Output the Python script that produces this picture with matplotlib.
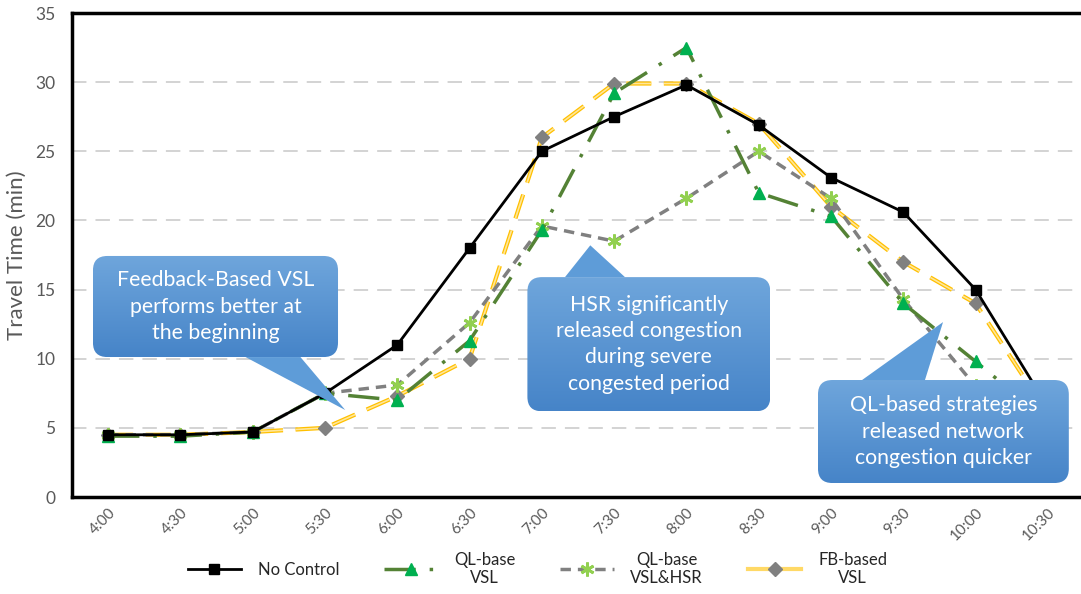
import matplotlib
matplotlib.use("Agg")
import matplotlib.pyplot as plt
import numpy as np
from matplotlib.patches import FancyBboxPatch, Polygon
from matplotlib.lines import Line2D

plt.rcParams['font.family'] = ['Lato', 'DejaVu Sans']

times = ["4:00", "4:30", "5:00", "5:30", "6:00", "6:30", "7:00", "7:30",
         "8:00", "8:30", "9:00", "9:30", "10:00", "10:30"]
no_control = [4.5, 4.5, 4.7, 7.5, 11.0, 18.0, 25.0, 27.5, 29.8, 26.9, 23.1, 20.6, 15.0, 6.5]
ql_vsl = [4.4, 4.4, 4.7, 7.5, 7.0, 11.3, 19.3, 29.2, 32.5, 22.0, 20.3, 14.0, 9.8, 5.5]
ql_vsl_hsr = [4.5, 4.5, 4.7, 7.5, 8.1, 12.6, 19.6, 18.5, 21.6, 25.0, 21.6, 14.3, 8.0, 5.0]
fb_vsl = [4.5, 4.5, 4.7, 5.0, 7.3, 10.0, 26.0, 29.9, 29.9, 27.0, 21.0, 17.0, 14.0, 6.0]

labels = ["No Control", "QL-base\nVSL", "QL-base\nVSL&HSR", "FB-based\nVSL"]

W, H = 1081, 594
fig = plt.figure(figsize=(W / 100, H / 100), dpi=100)
ax = fig.add_axes([72 / W, (H - 497) / H, (1084 - 72) / W, (497 - 13) / H])

x = np.arange(len(times))

l1, = ax.plot(x, no_control, color="black", lw=2, marker="s", ms=7,
              mfc="black", mec="black", zorder=5)
l2, = ax.plot(x, ql_vsl, color="#548235", lw=2.5, marker="^", ms=9,
              mfc="#00B050", mec="#00B050", zorder=4)
l2.set_dashes([9, 4, 1, 4])
l3, = ax.plot(x, ql_vsl_hsr, color="#808080", lw=2.5, marker=(6, 2, 0), ms=10,
              mfc="#92D050", mec="#92D050", mew=2, zorder=3)
l3.set_dashes([3, 2])
l4b, = ax.plot(x, fb_vsl, color="#FFC000", lw=3.0, zorder=2)
l4b.set_dashes([6, 3])
l4, = ax.plot(x, fb_vsl, color="#FFE699", lw=1.2, marker="D", ms=7,
              mfc="#808080", mec="#808080", zorder=2.5)
l4.set_dashes([15, 7.5])

ax.set_xlim(-0.5, 13.5)
ax.set_ylim(0, 35)
ax.set_yticks(np.arange(0, 36, 5))
ax.set_xticks(x)
ax.set_xticklabels(times, rotation=45, ha="right", rotation_mode="anchor",
                   color="#595959", fontsize=11)
ax.tick_params(axis="y", colors="#595959", labelsize=12.5, length=0, pad=12)
ax.tick_params(axis="x", length=0, pad=6)
ax.set_ylabel("Travel Time (min)", color="#595959", fontsize=16, labelpad=6)

ax.grid(axis="y", color="#D0D0D0", lw=1.3, linestyle=(0, (8, 5)))
ax.set_axisbelow(True)
for s in ["left", "bottom", "top", "right"]:
    ax.spines[s].set_linewidth(2.5)
    ax.spines[s].set_color("black")


def callout(box, base, tip, text):
    x0, x1, y0, y1 = box
    grad = np.linspace(0, 1, 256).reshape(-1, 1)
    cmap = matplotlib.colors.LinearSegmentedColormap.from_list(
        "c", ["#6FA6DC", "#4684C8"])
    patch = FancyBboxPatch((x0, y0), x1 - x0, y1 - y0,
                           boxstyle="round,pad=0,rounding_size=0.2",
                           mutation_aspect=5.2,
                           fc="none", ec="none", zorder=8)
    ax.add_patch(patch)
    im = ax.imshow(grad, extent=(x0, x1, y0, y1), cmap=cmap, aspect="auto",
                   zorder=8, origin="upper")
    im.set_clip_path(patch)
    yb = y1 if tip[1] > y1 else y0
    poly = Polygon([(base[0], yb), (base[1], yb), tip], closed=True,
                   fc="#5E9CD8", ec="none", zorder=8)
    ax.add_patch(poly)
    ax.text((x0 + x1) / 2, (y0 + y1) / 2, text, ha="center", va="center",
            color="white", fontsize=15.3, linespacing=1.4, zorder=9)


callout((-0.21, 3.18, 10.12, 17.43), (1.9, 2.66), (3.28, 6.29),
        "Feedback-Based VSL\nperforms better at\nthe beginning")
callout((5.8, 9.16, 6.2, 15.9), (6.32, 7.15), (6.67, 18.2),
        "HSR significantly\nreleased congestion\nduring severe\ncongested period")
callout((9.82, 13.29, 1.01, 8.46), (10.43, 11.3), (11.55, 12.65),
        "QL-based strategies\nreleased network\ncongestion quicker")
ax.set_xlim(-0.5, 13.5)
ax.set_ylim(0, 35)

h1 = Line2D([], [], color="black", lw=2, marker="s", ms=7)
h2 = Line2D([], [], color="#548235", lw=2.5, marker="^", ms=9, mfc="#00B050", mec="#00B050")
h2.set_dashes([9, 4, 1, 4])
h3 = Line2D([], [], color="#808080", lw=2.5, marker=(6, 2, 0), ms=10, mfc="#92D050", mec="#92D050", mew=2)
h3.set_dashes([3, 2])
h4 = Line2D([], [], color="#FFD966", lw=3, marker="D", ms=7, mfc="#808080", mec="#808080")
leg = fig.legend([h1, h2, h3, h4], labels, loc="lower center", ncol=4,
                 bbox_to_anchor=(0.497, -0.012), frameon=False, fontsize=12,
                 handlelength=3.2, columnspacing=2.7, handletextpad=1.0)
for t in leg.get_texts():
    t.set_multialignment("center")
    t.set_color("#262626")

fig.savefig("out.png", dpi=100)
